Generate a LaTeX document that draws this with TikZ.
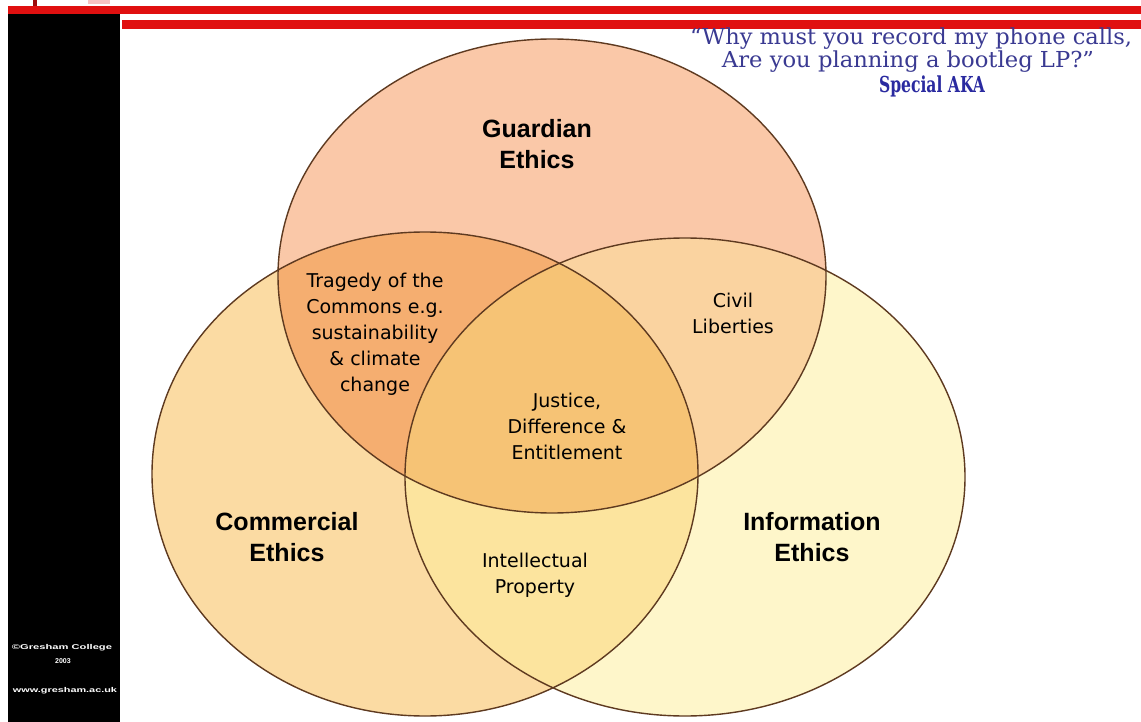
\documentclass[tikz,border=0pt]{standalone}
\usepackage{graphicx}
\usepackage{fontspec}
\setmainfont{DejaVu Sans}
\newfontfamily\labf{Liberation Sans}
\newfontfamily\quotef{DejaVu Serif}
\definecolor{barred}{HTML}{E01010}
\definecolor{cG}{HTML}{FAC8A8}
\definecolor{cC}{HTML}{FBDBA3}
\definecolor{cI}{HTML}{FEF6CA}
\definecolor{cGC}{HTML}{F5AE70}
\definecolor{cGI}{HTML}{FAD3A0}
\definecolor{cCI}{HTML}{FCE49E}
\definecolor{cGCI}{HTML}{F6C375}
\definecolor{edge}{HTML}{5E3A20}
\definecolor{qblue}{HTML}{3A3A92}
\definecolor{sblue}{HTML}{2A2AA0}
\begin{document}
\begin{tikzpicture}[x=1pt,y=-1pt,
  biglab/.style={align=center,inner sep=0pt,text=black,font=\labf\bfseries\fontsize{25}{31}\selectfont},
  smalllab/.style={align=center,inner sep=0pt,text=black,font=\fontsize{19}{26}\selectfont},
  quotelab/.style={inner sep=0pt,text=qblue,font=\quotef\fontsize{22}{24}\selectfont},
  sidelab/.style={inner sep=0pt,text=white,font=\labf\bfseries\fontsize{7}{8}\selectfont},
  outline/.style={draw=edge,line width=1.4pt}]
\useasboundingbox (0,0) rectangle (1141,722);
\fill[white] (0,0) rectangle (1141,722);
% header bars and sidebar
\fill[barred] (8,6) rectangle (1141,14);
\fill[barred] (122,20) rectangle (1141,29);
\fill[black] (8,14) rectangle (120,722);
\fill[barred!70!black] (33,0) rectangle (37,6);
\fill[barred!25] (88,0) rectangle (110,4);
% base fills
\fill[cI] (685,477) ellipse [x radius=280pt, y radius=239pt];
\fill[cC] (425,474) ellipse [x radius=273pt, y radius=242pt];
\fill[cG] (552,276) ellipse [x radius=274pt, y radius=237pt];
% pairwise overlaps
\begin{scope}
  \clip (552,276) ellipse [x radius=274pt, y radius=237pt];
  \fill[cGC] (425,474) ellipse [x radius=273pt, y radius=242pt];
  \fill[cGI] (685,477) ellipse [x radius=280pt, y radius=239pt];
\end{scope}
\begin{scope}
  \clip (425,474) ellipse [x radius=273pt, y radius=242pt];
  \fill[cCI] (685,477) ellipse [x radius=280pt, y radius=239pt];
  \clip (685,477) ellipse [x radius=280pt, y radius=239pt];
  \fill[cGCI] (552,276) ellipse [x radius=274pt, y radius=237pt];
\end{scope}
% outlines
\draw[outline] (552,276) ellipse [x radius=274pt, y radius=237pt];
\draw[outline] (425,474) ellipse [x radius=273pt, y radius=242pt];
\draw[outline] (685,477) ellipse [x radius=280pt, y radius=239pt];
% labels
\node[biglab] (guard) at (537,144) {Guardian\\Ethics};
\node[biglab] (comm) at (287,537) {Commercial\\Ethics};
\node[biglab] (info) at (812,537) {Information\\Ethics};
\node[smalllab] (trag) at (375,334) {Tragedy of the\\Commons e.g.\\sustainability\\\& climate\\change};
\node[smalllab] (civil) at (733,313) {Civil\\Liberties};
\node[smalllab] (just) at (567,426) {Justice,\\Difference \&\\Entitlement};
\node[smalllab] (intel) at (535,575) {Intellectual\\Property};
% quote
\node[quotelab] (q1) at (911,39) {\resizebox{442pt}{\height}{“Why must you record my phone calls,}};
\node[quotelab] (q2) at (908,62) {\resizebox{372pt}{\height}{Are you planning a bootleg LP?”}};
\node[quotelab,text=sblue,font=\quotef\bfseries\fontsize{22}{24}\selectfont] (q3) at (932,86) {\resizebox{106pt}{\height}{Special AKA}};
% sidebar credits
\node[sidelab] (s1) at (62,648) {\resizebox{100pt}{\height}{©Gresham College}};
\node[sidelab] (s2) at (63,661) {2003};
\node[sidelab] (s3) at (65,691) {\resizebox{104pt}{\height}{www.gresham.ac.uk}};
\end{tikzpicture}
\end{document}
